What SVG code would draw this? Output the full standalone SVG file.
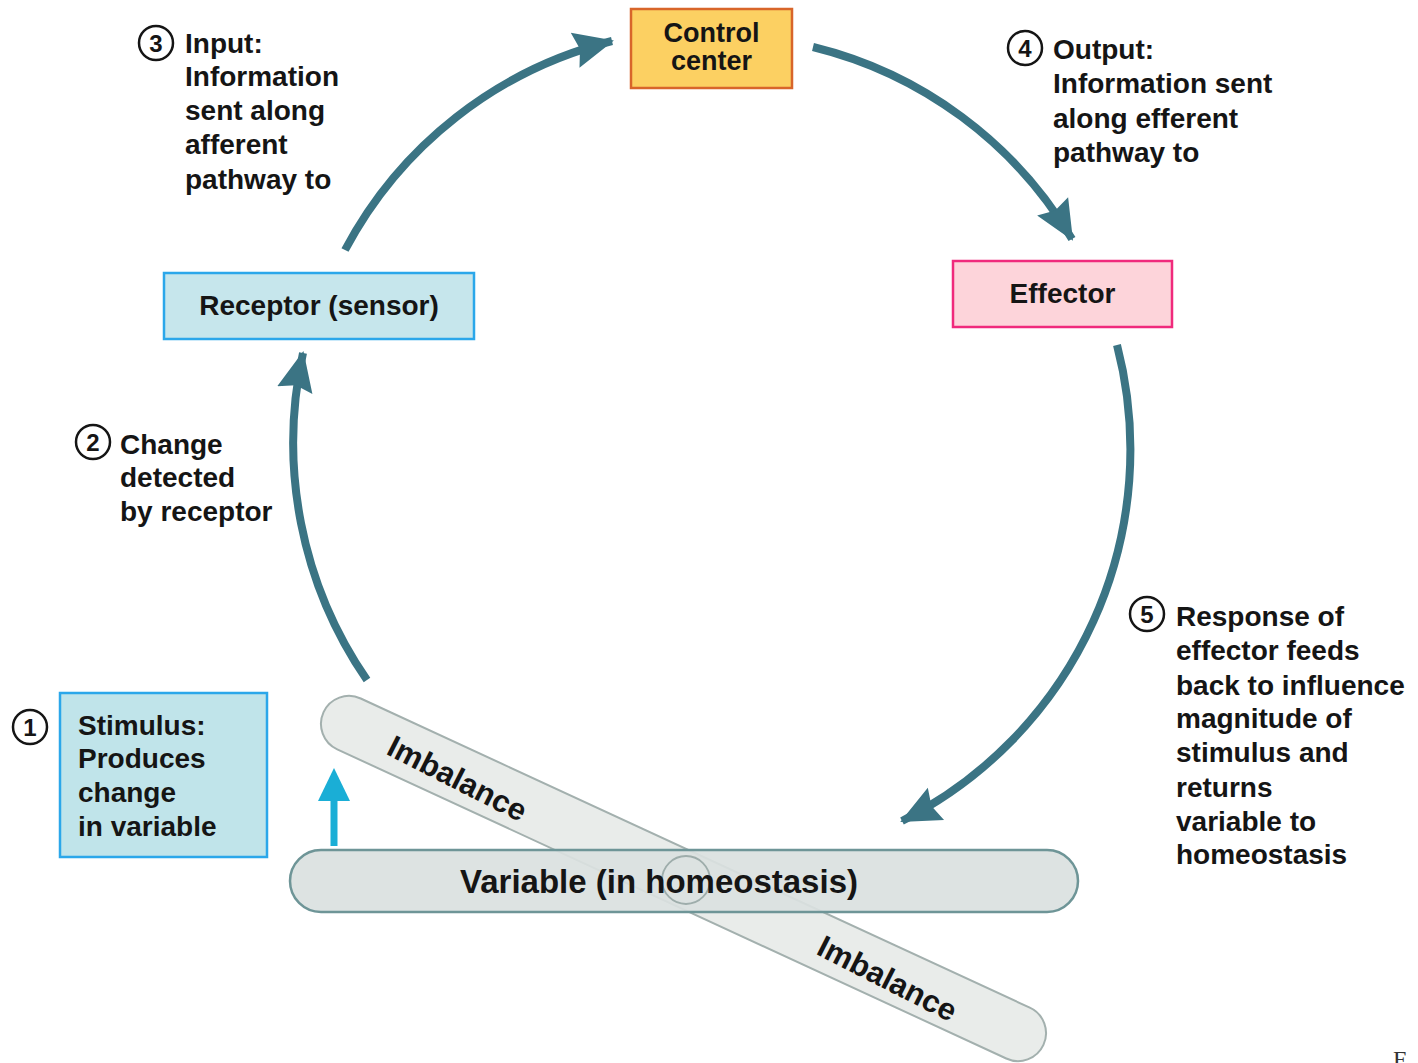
<svg xmlns="http://www.w3.org/2000/svg" width="1418" height="1063" viewBox="0 0 1418 1063">
<style>
text{font-family:"Liberation Sans",Arial,sans-serif;font-weight:bold;fill:#151515}
.lbl{font-size:28px}
.num{font-size:24px;text-anchor:middle}
.ring{fill:#fff;stroke:#151515;stroke-width:2.5}
.conn{fill:none;stroke:#3b7484;stroke-width:8;marker-end:url(#ah)}
.mid{text-anchor:middle}
</style>
<defs>
<marker id="ah" markerUnits="userSpaceOnUse" markerWidth="44" markerHeight="44" viewBox="0 0 44 44" refX="38" refY="22" orient="auto">
<path d="M0,4 L40,22 L0,40 L5,22 Z" fill="#3b7484"/>
</marker>
</defs>
<rect width="1418" height="1063" fill="#fff"/>

<g id="imbalance">
<rect x="-396.5" y="-28" width="793" height="56" rx="28" transform="translate(683.5,878.5) rotate(24.8)" fill="#e9ecea" stroke="#a3b0ae" stroke-width="2"/>
<text class="mid" style="font-size:31px" transform="translate(457,779) rotate(27)" y="10">Imbalance</text>
<text class="mid" style="font-size:31px" transform="translate(887,979) rotate(27)" y="10">Imbalance</text>
</g>

<g id="variable">
<rect x="290" y="850" width="788" height="62" rx="31" fill="#dae1df" fill-opacity="0.92" stroke="#6e9597" stroke-width="2.5"/>
<circle cx="686" cy="880" r="24" fill="none" stroke="#9eadab" stroke-width="1.8"/>
<text class="mid" x="659" y="893" style="font-size:33px">Variable (in homeostasis)</text>
</g>

<g id="control-center">
<rect x="631" y="9" width="161" height="79" fill="#fcd062" stroke="#d8652a" stroke-width="2.5"/>
<text class="mid" x="711.5" y="42" style="font-size:27px">Control</text>
<text class="mid" x="711.5" y="70" style="font-size:27px">center</text>
</g>

<g id="receptor">
<rect x="164" y="273" width="310" height="66" fill="#c6e6ec" stroke="#2ba7ea" stroke-width="2.5"/>
<text class="lbl mid" x="319" y="315">Receptor (sensor)</text>
</g>

<g id="effector">
<rect x="953" y="261" width="219" height="66" fill="#fdd4da" stroke="#f02a7c" stroke-width="2.5"/>
<text class="lbl mid" x="1062.5" y="303">Effector</text>
</g>

<g id="stimulus">
<rect x="60" y="693" width="207" height="164" fill="#c0e4ea" stroke="#2ba7ea" stroke-width="2.5"/>
<text class="lbl" x="78" y="735">Stimulus:</text>
<text class="lbl" x="78" y="768">Produces</text>
<text class="lbl" x="78" y="802">change</text>
<text class="lbl" x="78" y="836">in variable</text>
<circle class="ring" cx="30" cy="727" r="17"/>
<text class="num" x="30" y="736">1</text>
</g>

<g id="connectors">
<path class="conn" d="M345,250 A416,416 0 0 1 612,41"/>
<path class="conn" d="M813,47 A416,416 0 0 1 1072,239"/>
<path class="conn" d="M1117,345 A416,416 0 0 1 902,821"/>
<path class="conn" d="M367,680 A418,418 0 0 1 303,353"/>
<path d="M334,846 L334,795" stroke="#1aaed6" stroke-width="7" fill="none"/>
<path d="M334,768 L350,801 L318,801 Z" fill="#1aaed6"/>
</g>

<g id="label-input">
<circle class="ring" cx="156" cy="43" r="17"/>
<text class="num" x="156" y="52">3</text>
<text class="lbl" x="185" y="53">Input:</text>
<text class="lbl" x="185" y="86">Information</text>
<text class="lbl" x="185" y="120">sent along</text>
<text class="lbl" x="185" y="154">afferent</text>
<text class="lbl" x="185" y="189">pathway to</text>
</g>

<g id="label-output">
<circle class="ring" cx="1025" cy="48" r="17"/>
<text class="num" x="1025" y="57">4</text>
<text class="lbl" x="1053" y="59">Output:</text>
<text class="lbl" x="1053" y="93">Information sent</text>
<text class="lbl" x="1053" y="128">along efferent</text>
<text class="lbl" x="1053" y="162">pathway to</text>
</g>

<g id="label-change">
<circle class="ring" cx="93" cy="442" r="17"/>
<text class="num" x="93" y="451">2</text>
<text class="lbl" x="120" y="454">Change</text>
<text class="lbl" x="120" y="487">detected</text>
<text class="lbl" x="120" y="521">by receptor</text>
</g>

<g id="label-response">
<circle class="ring" cx="1147" cy="614" r="17"/>
<text class="num" x="1147" y="623">5</text>
<text class="lbl" x="1176" y="626">Response of</text>
<text class="lbl" x="1176" y="660">effector feeds</text>
<text class="lbl" x="1176" y="695">back to influence</text>
<text class="lbl" x="1176" y="728">magnitude of</text>
<text class="lbl" x="1176" y="762">stimulus and</text>
<text class="lbl" x="1176" y="797">returns</text>
<text class="lbl" x="1176" y="831">variable to</text>
<text class="lbl" x="1176" y="864">homeostasis</text>
</g>

<text x="1393" y="1067" style="font-family:'Liberation Serif',serif;font-weight:normal;font-size:24px;fill:#333">F</text>
</svg>
